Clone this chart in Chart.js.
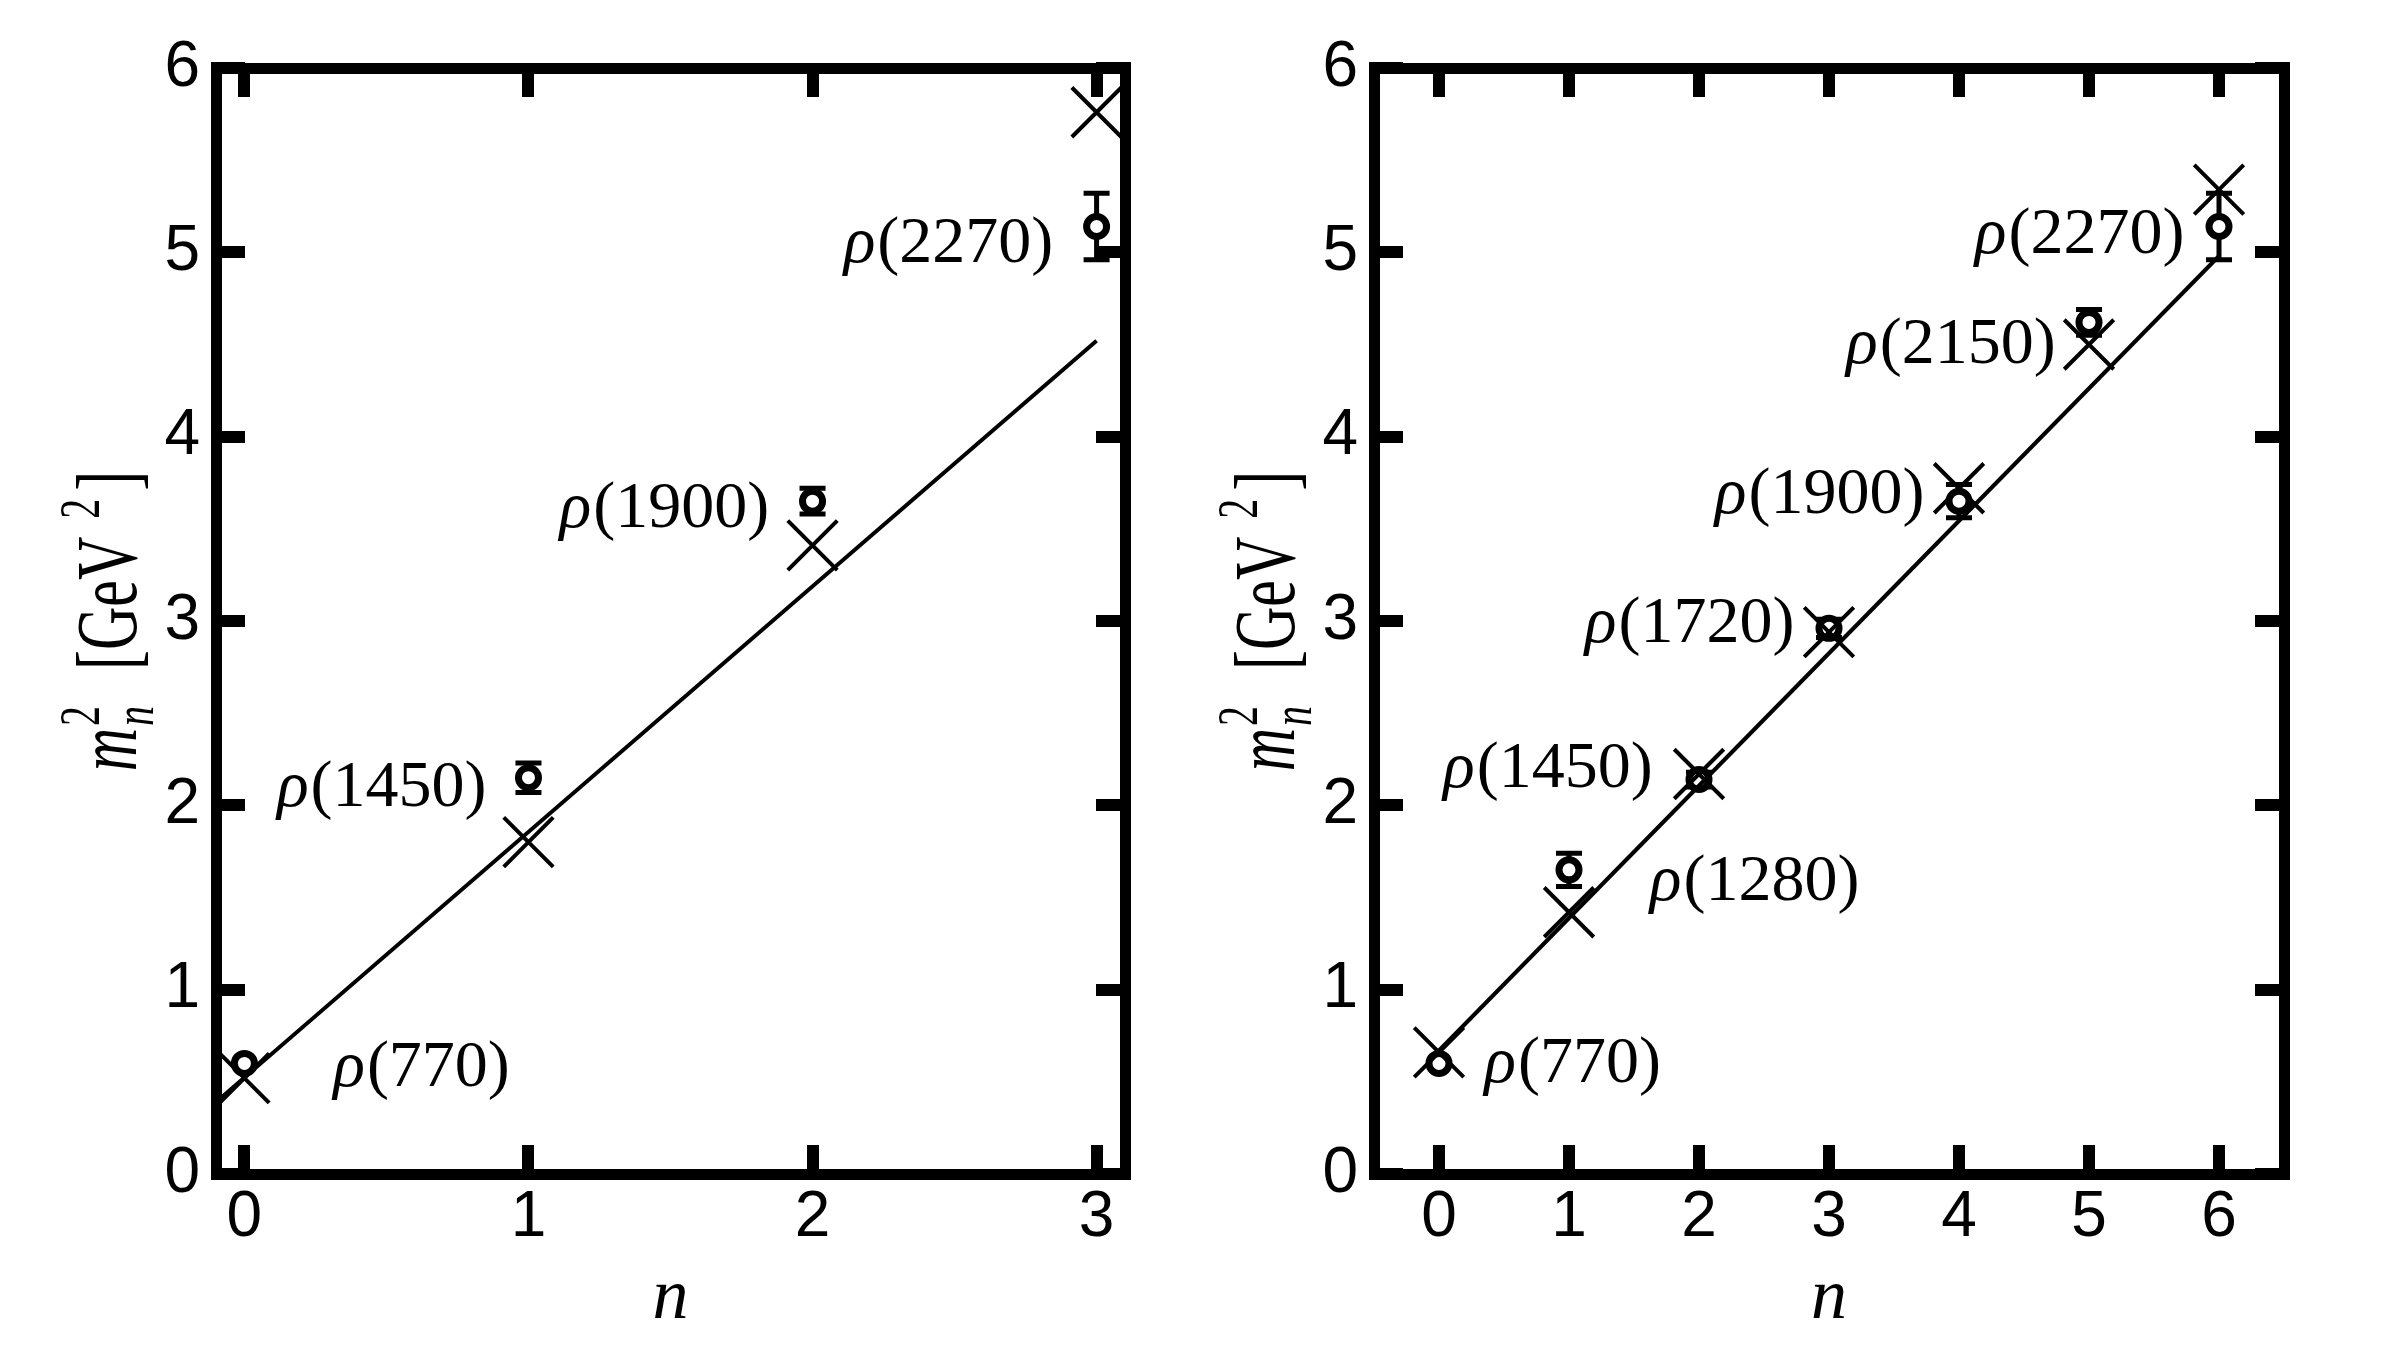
<!DOCTYPE html>
<html>
<head>
<meta charset="utf-8">
<script src="https://cdn.jsdelivr.net/npm/chart.js@4.4.0/dist/chart.umd.min.js"></script>
<style>
  html, body { margin: 0; padding: 0; background: #fff; }
  #wrap { position: relative; width: 2400px; height: 1350px; background: #fff; }
  .panel { position: absolute; top: 0; width: 1200px; height: 1350px; }
</style>
</head>
<body>
<div id="wrap">
  <div class="panel" style="left:0"><canvas id="leftChart" width="1200" height="1350"></canvas></div>
  <div class="panel" style="left:1200px"><canvas id="rightChart" width="1200" height="1350"></canvas></div>
</div>
<script>
// left panel, n = 0..3
const leftN = [0, 1, 2, 3];
const leftExp = [0.60, 2.15, 3.65, 5.14];
const leftErr = [0, 0.08, 0.07, 0.18];
const leftModel = [0.52, 1.80, 3.41, 5.76];
const leftFitN = [-0.1, 3];
const leftFit = [0.39, 4.52];
const leftNames = ["770", "1450", "1900", "2270"];
const leftNameN = [0.62, 0.48, 1.475, 2.475];
const leftNameM = [0.60, 2.12, 3.63, 5.07];
const leftXTicks = [0, 1, 2, 3];

// right panel, n = 0..6
const rightN = [0, 1, 2, 3, 4, 5, 6];
const rightExp = [0.60, 1.65, 2.14, 2.96, 3.65, 4.62, 5.14];
const rightErr = [0, 0.09, 0.04, 0.05, 0.09, 0.07, 0.18];
const rightModel = [0.66, 1.42, 2.17, 2.94, 3.72, 4.50, 5.34];
const rightFitN = [0, 6];
const rightFit = [0.67, 4.98];
const rightNames = ["770", "1280", "1450", "1720", "1900", "2150", "2270"];
const rightNameN = [1.02, 2.42, 0.83, 1.92, 2.92, 3.93, 4.92];
const rightNameM = [0.62, 1.61, 2.22, 3.01, 3.71, 4.52, 5.12];
const rightXTicks = [0, 1, 2, 3, 4, 5, 6];

const yTicks = [0, 1, 2, 3, 4, 5, 6];

const SERIF = '"Liberation Serif", "DejaVu Serif", serif';
const SANS = '"Liberation Sans", Arial, sans-serif';

function points(xs, ys) {
  return xs.map((x, i) => ({ x: x, y: ys[i] }));
}

// error bars under the open circles
const errorBars = {
  id: "errorBars",
  beforeDatasetsDraw(chart, args, opts) {
    const ctx = chart.ctx;
    const xs = chart.scales.x;
    const ys = chart.scales.y;
    ctx.save();
    ctx.strokeStyle = "#000";
    ctx.lineWidth = 5;
    opts.n.forEach((n, i) => {
      const e = opts.err[i];
      if (!e) return;
      const px = xs.getPixelForValue(n);
      const top = ys.getPixelForValue(opts.exp[i] + e);
      const bot = ys.getPixelForValue(opts.exp[i] - e);
      ctx.beginPath();
      ctx.moveTo(px, top);
      ctx.lineTo(px, bot);
      ctx.moveTo(px - 13, top);
      ctx.lineTo(px + 13, top);
      ctx.moveTo(px - 13, bot);
      ctx.lineTo(px + 13, bot);
      ctx.stroke();
    });
    ctx.restore();
  }
};

// rho(...) state names and the rotated y title
const panelText = {
  id: "panelText",
  afterDraw(chart, args, opts) {
    const ctx = chart.ctx;
    const xs = chart.scales.x;
    const ys = chart.scales.y;
    const size = 66;
    ctx.save();
    ctx.fillStyle = "#000";
    ctx.textBaseline = "alphabetic";
    opts.names.forEach((name, i) => {
      const cx = xs.getPixelForValue(opts.nameN[i]);
      const cy = ys.getPixelForValue(opts.nameM[i]);
      ctx.font = "italic " + size + "px " + SERIF;
      const wr = ctx.measureText("\u03c1").width;
      ctx.font = size + "px " + SERIF;
      const rest = "(" + name + ")";
      const wt = ctx.measureText(rest).width;
      const x = cx - (wr + wt) / 2;
      const base = cy + 0.34 * size;
      ctx.font = "italic " + size + "px " + SERIF;
      ctx.fillText("\u03c1", x, base);
      ctx.font = size + "px " + SERIF;
      ctx.fillText(rest, x + wr + 2, base);
    });
    ctx.restore();

    drawMassTitle(ctx, chart.chartArea);
  }
};

function drawMassTitle(ctx, area) {
  const big = 60;
  const small = 40;
  const fBig = big + "px " + SERIF;
  const fBigI = "italic " + fBig;
  const fSmall = small + "px " + SERIF;
  const fSmallI = "italic " + fSmall;

  ctx.save();
  ctx.translate(area.left - 80, (area.top + area.bottom) / 2);
  ctx.rotate(-Math.PI / 2);
  ctx.scale(1, 1.45);
  ctx.fillStyle = "#000";
  ctx.textBaseline = "alphabetic";

  ctx.font = fBigI;
  const wm = ctx.measureText("m").width;
  ctx.font = fSmallI;
  const wn = ctx.measureText("n").width;
  ctx.font = fSmall;
  const w2 = ctx.measureText("2").width;
  ctx.font = fBig;
  const wUnit = ctx.measureText("[GeV").width;
  const wClose = ctx.measureText("]").width;
  const stackW = Math.max(wn, w2);
  const gap1 = 36, gap2 = 18, gap3 = 8;
  const total = wm + 2 + stackW + gap1 + wUnit + gap2 + w2 + gap3 + wClose;

  let x = -total / 2;
  ctx.font = fBigI;
  ctx.fillText("m", x, 0);
  x += wm + 2;
  ctx.font = fSmall;
  ctx.fillText("2", x, -0.42 * big);
  ctx.font = fSmallI;
  ctx.fillText("n", x, 0.2 * big);
  x += stackW + gap1;
  ctx.font = fBig;
  ctx.fillText("[GeV", x, 0);
  x += wUnit + gap2;
  ctx.font = fSmall;
  ctx.fillText("2", x, -0.42 * big);
  x += w2 + gap3;
  ctx.font = fBig;
  ctx.fillText("]", x, 0);
  ctx.restore();
}

function buildChart(id, cfg) {
  const frame = { display: true, color: "#000", width: 11 };
  const inward = {
    drawOnChartArea: false,
    drawTicks: true,
    tickLength: -29,
    tickWidth: 12,
    lineWidth: 12,
    color: "#000",
    tickColor: "#000"
  };
  const tickFont = { family: SANS, size: 64 };
  const setX = s => { s.ticks = cfg.xTicks.map(v => ({ value: v })); };
  const setY = s => { s.ticks = yTicks.map(v => ({ value: v })); };
  // fixed box sizes so the plot frame lands where the reference has it
  const fixHeight = h => s => {
    s.height = h;
    s.paddingLeft = 0; s.paddingRight = 0; s.paddingTop = 0; s.paddingBottom = 0;
  };
  const fixWidth = w => s => {
    s.width = w;
    s.paddingLeft = 0; s.paddingRight = 0; s.paddingTop = 0; s.paddingBottom = 0;
  };

  return new Chart(document.getElementById(id), {
    type: "scatter",
    data: {
      datasets: [
        {
          label: "fit",
          data: points(cfg.fitN, cfg.fit),
          showLine: true,
          borderColor: "#000",
          borderWidth: 4,
          pointRadius: 0,
          fill: false
        },
        {
          label: "model",
          data: points(cfg.n, cfg.model),
          pointStyle: "crossRot",
          pointRadius: 35,
          borderColor: "#000",
          borderWidth: 4,
          backgroundColor: "#000"
        },
        {
          label: "experiment",
          data: points(cfg.n, cfg.exp),
          pointStyle: "circle",
          pointRadius: 10,
          borderColor: "#000",
          borderWidth: 7,
          backgroundColor: "#fff"
        }
      ]
    },
    options: {
      responsive: false,
      animation: false,
      devicePixelRatio: 1,
      layout: { padding: 0, autoPadding: false },
      plugins: {
        legend: { display: false },
        tooltip: { enabled: false },
        errorBars: { n: cfg.n, exp: cfg.exp, err: cfg.err },
        panelText: { names: cfg.names, nameN: cfg.nameN, nameM: cfg.nameM }
      },
      scales: {
        x: {
          type: "linear",
          position: "bottom",
          min: cfg.xMin,
          max: cfg.xMax,
          afterBuildTicks: setX,
          afterFit: fixHeight(1350 - 1174),
          ticks: { font: tickFont, color: "#000", padding: 35, callback: v => String(v) },
          grid: inward,
          border: frame,
          title: {
            display: true,
            text: "n",
            color: "#000",
            font: { family: SERIF, size: 72, style: "italic" },
            padding: { top: 0, bottom: 8 }
          }
        },
        x2: {
          type: "linear",
          position: "top",
          min: cfg.xMin,
          max: cfg.xMax,
          afterBuildTicks: setX,
          afterFit: fixHeight(68),
          ticks: { display: false },
          grid: inward,
          border: frame
        },
        y: {
          type: "linear",
          position: "left",
          min: 0,
          max: 6,
          afterBuildTicks: setY,
          afterFit: fixWidth(cfg.left),
          ticks: { font: tickFont, color: "#000", padding: 45, callback: v => String(v) },
          grid: inward,
          border: frame
        },
        y2: {
          type: "linear",
          position: "right",
          min: 0,
          max: 6,
          afterBuildTicks: setY,
          afterFit: fixWidth(1200 - cfg.right),
          ticks: { display: false },
          grid: inward,
          border: frame
        }
      }
    },
    plugins: [errorBars, panelText]
  });
}

buildChart("leftChart", {
  n: leftN, exp: leftExp, err: leftErr, model: leftModel,
  fitN: leftFitN, fit: leftFit,
  names: leftNames, nameN: leftNameN, nameM: leftNameM,
  xTicks: leftXTicks, xMin: -0.1, xMax: 3.1,
  left: 216, right: 1125
});

buildChart("rightChart", {
  n: rightN, exp: rightExp, err: rightErr, model: rightModel,
  fitN: rightFitN, fit: rightFit,
  names: rightNames, nameN: rightNameN, nameM: rightNameM,
  xTicks: rightXTicks, xMin: -0.5, xMax: 6.5,
  left: 174, right: 1084
});
</script>
</body>
</html>
